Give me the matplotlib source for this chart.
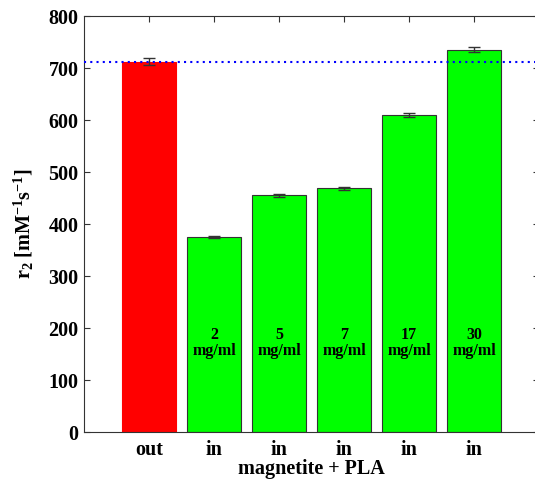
import matplotlib
matplotlib.use("Agg")
import matplotlib.pyplot as plt

# data
positions = [1, 2, 3, 4, 5, 6]
tick_labels = ["out", "in", "in", "in", "in", "in"]
r2_values = [712, 375, 455, 469, 610, 735]
r2_errors = [7, 2, 3, 3, 4, 5]
bar_colors = ["#ff0000", "#00ff00", "#00ff00", "#00ff00", "#00ff00", "#00ff00"]
conc_labels = ["", "2\nmg/ml", "5\nmg/ml", "7\nmg/ml", "17\nmg/ml", "30\nmg/ml"]
reference_level = 712

plt.rcParams['font.family'] = ['Liberation Serif', 'DejaVu Serif']
plt.rcParams['mathtext.fontset'] = 'custom'
plt.rcParams['mathtext.rm'] = 'Liberation Serif:bold'
plt.rcParams['mathtext.it'] = 'Liberation Serif:bold'
plt.rcParams['mathtext.bf'] = 'Liberation Serif:bold'

fig = plt.figure(figsize=(5.35, 4.79), dpi=100)
# axes run a little past the right edge, as in the reference
ax = fig.add_axes([84 / 535, 47 / 479, 455 / 535, 416 / 479])

for i in range(len(positions)):
    edge = bar_colors[i] if i == 0 else "#333333"
    ax.bar(positions[i], r2_values[i], width=0.84, color=bar_colors[i],
           edgecolor=edge, linewidth=0.8, zorder=2)
ax.errorbar(positions, r2_values, yerr=r2_errors, fmt='none', ecolor='#333333',
            elinewidth=1, capsize=4, capthick=1, zorder=3)

ax.axhline(reference_level, color='blue', linestyle=(0, (1, 2)), linewidth=1.5, zorder=4)

for p, lab in zip(positions, conc_labels):
    if lab:
        ax.text(p, 171, lab, ha='center', va='center', fontsize=11.5,
                fontweight='bold', linespacing=1.05, zorder=5)

ax.set_xlim(0, 7)
ax.set_ylim(0, 800)
ax.set_xticks(positions)
ax.set_xticklabels(tick_labels)
ax.set_yticks(range(0, 801, 100))
ax.tick_params(direction='in', top=True, right=True, length=4, width=0.8,
               color='#333333', labelsize=14.5, pad=4)
ax.tick_params(axis='x', pad=6)
for lab in ax.get_xticklabels() + ax.get_yticklabels():
    lab.set_fontweight('bold')
for s in ax.spines.values():
    s.set_color('#333333')
    s.set_linewidth(0.8)

ax.set_ylabel(r"r$_2$ [mM$^{-1}$s$^{-1}$]", fontsize=14.5, fontweight='bold', labelpad=9)
ax.set_xlabel("magnetite + PLA", fontsize=14.5, fontweight='bold', labelpad=-1)

plt.savefig("out.png", dpi=100)
plt.close()
